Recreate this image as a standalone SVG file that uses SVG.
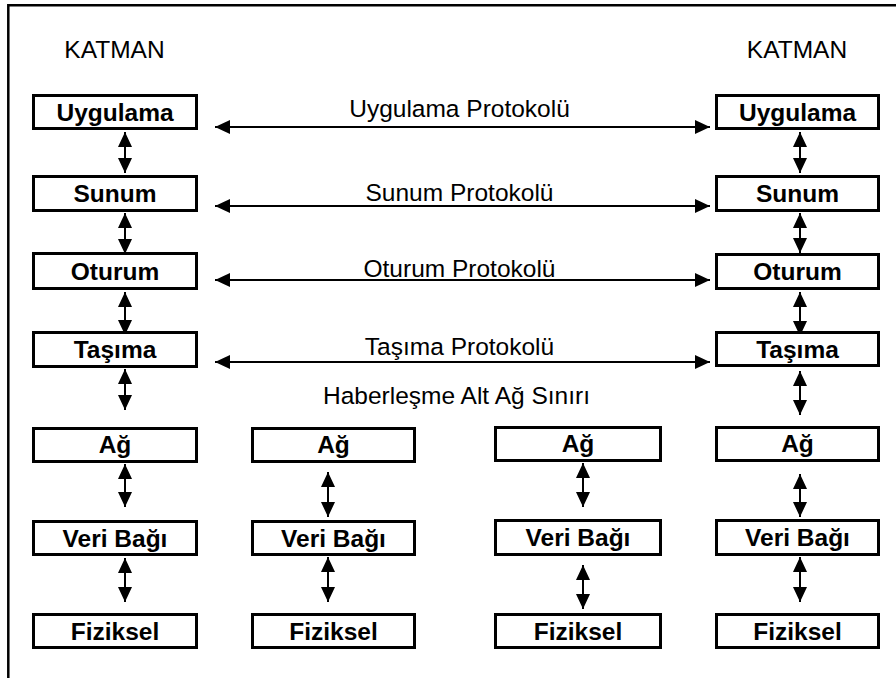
<svg xmlns="http://www.w3.org/2000/svg" width="896" height="678" viewBox="0 0 896 678">
<style>
.box{fill:#fff;stroke:#000;stroke-width:3}
.bl{font-family:"Liberation Sans",Arial,sans-serif;font-size:24.5px;font-weight:bold;text-anchor:middle;fill:#000}
.lb{font-family:"Liberation Sans",Arial,sans-serif;font-size:24.5px;text-anchor:middle;fill:#000}
.c{stroke:#000;stroke-width:2;fill:none;marker-start:url(#ah);marker-end:url(#ah)}
</style>
<defs>
<marker id="ah" viewBox="0 0 15 14" markerWidth="15" markerHeight="14" refX="15" refY="7" markerUnits="userSpaceOnUse" orient="auto-start-reverse">
<path d="M0,0 L15,7 L0,14 Z" fill="#000"/>
</marker>
</defs>
<rect width="896" height="678" fill="#fff"/>
<path d="M8.3,678 V5.3 H896" fill="none" stroke="#000" stroke-width="2.5"/>
<g id="labels">
<text class="lb" x="114.5" y="58">KATMAN</text>
<text class="lb" x="797" y="58">KATMAN</text>
<text class="lb" x="459.5" y="117">Uygulama Protokolü</text>
<text class="lb" x="459.5" y="201">Sunum Protokolü</text>
<text class="lb" x="459.5" y="277">Oturum Protokolü</text>
<text class="lb" x="459.5" y="355">Taşıma Protokolü</text>
<text class="lb" x="456.5" y="404">Haberleşme Alt Ağ Sınırı</text>
</g>
<g id="connectors">
<line class="c" x1="215" y1="127" x2="710" y2="127"/>
<line class="c" x1="215" y1="206" x2="710" y2="206"/>
<line class="c" x1="215" y1="280" x2="710" y2="280"/>
<line class="c" x1="215" y1="362" x2="710" y2="362"/>
<line class="c" x1="125" y1="132" x2="125" y2="173"/>
<line class="c" x1="125" y1="213" x2="125" y2="254"/>
<line class="c" x1="125" y1="292" x2="125" y2="335"/>
<line class="c" x1="125" y1="369" x2="125" y2="410"/>
<line class="c" x1="125" y1="464" x2="125" y2="507"/>
<line class="c" x1="125" y1="558" x2="125" y2="602"/>
<line class="c" x1="328" y1="472" x2="328" y2="517"/>
<line class="c" x1="328" y1="557" x2="328" y2="602"/>
<line class="c" x1="583" y1="463" x2="583" y2="507"/>
<line class="c" x1="583" y1="565" x2="583" y2="609"/>
<line class="c" x1="800" y1="132" x2="800" y2="173"/>
<line class="c" x1="800" y1="213" x2="800" y2="253"/>
<line class="c" x1="800" y1="292" x2="800" y2="336"/>
<line class="c" x1="800" y1="371" x2="800" y2="415"/>
<line class="c" x1="800" y1="474" x2="800" y2="517"/>
<line class="c" x1="800" y1="557" x2="800" y2="602"/>
</g>
<g id="l-uygulama"><rect class="box" x="33.5" y="95.5" width="163" height="33"/><text class="bl" x="115" y="121">Uygulama</text></g>
<g id="l-sunum"><rect class="box" x="33.5" y="176.5" width="163" height="34"/><text class="bl" x="115" y="202">Sunum</text></g>
<g id="l-oturum"><rect class="box" x="33.5" y="253.5" width="163" height="35"/><text class="bl" x="115" y="280">Oturum</text></g>
<g id="l-tasima"><rect class="box" x="33.5" y="332.5" width="163" height="34"/><text class="bl" x="115" y="358">Taşıma</text></g>
<g id="l-ag"><rect class="box" x="33.5" y="428.5" width="163" height="33"/><text class="bl" x="115" y="453">Ağ</text></g>
<g id="l-veri"><rect class="box" x="33.5" y="521.5" width="163" height="33"/><text class="bl" x="115" y="547">Veri Bağı</text></g>
<g id="l-fiziksel"><rect class="box" x="33.5" y="614.5" width="163" height="33"/><text class="bl" x="115" y="640">Fiziksel</text></g>
<g id="a-ag"><rect class="box" x="252.5" y="428.5" width="162" height="33"/><text class="bl" x="333.5" y="453">Ağ</text></g>
<g id="a-veri"><rect class="box" x="252.5" y="521.5" width="162" height="33"/><text class="bl" x="333.5" y="547">Veri Bağı</text></g>
<g id="a-fiziksel"><rect class="box" x="252.5" y="614.5" width="162" height="33"/><text class="bl" x="333.5" y="640">Fiziksel</text></g>
<g id="b-ag"><rect class="box" x="495.5" y="427.5" width="165" height="33"/><text class="bl" x="578" y="452">Ağ</text></g>
<g id="b-veri"><rect class="box" x="495.5" y="520.5" width="165" height="34"/><text class="bl" x="578" y="546">Veri Bağı</text></g>
<g id="b-fiziksel"><rect class="box" x="495.5" y="614.5" width="165" height="33"/><text class="bl" x="578" y="640">Fiziksel</text></g>
<g id="r-uygulama"><rect class="box" x="716.5" y="95.5" width="162" height="33"/><text class="bl" x="797.5" y="121">Uygulama</text></g>
<g id="r-sunum"><rect class="box" x="716.5" y="176.5" width="162" height="34"/><text class="bl" x="797.5" y="202">Sunum</text></g>
<g id="r-oturum"><rect class="box" x="716.5" y="254.5" width="162" height="34"/><text class="bl" x="797.5" y="280">Oturum</text></g>
<g id="r-tasima"><rect class="box" x="716.5" y="332.5" width="162" height="33"/><text class="bl" x="797.5" y="358">Taşıma</text></g>
<g id="r-ag"><rect class="box" x="716.5" y="427.5" width="162" height="33"/><text class="bl" x="797.5" y="452">Ağ</text></g>
<g id="r-veri"><rect class="box" x="716.5" y="520.5" width="162" height="34"/><text class="bl" x="797.5" y="546">Veri Bağı</text></g>
<g id="r-fiziksel"><rect class="box" x="716.5" y="614.5" width="162" height="33"/><text class="bl" x="797.5" y="640">Fiziksel</text></g>
</svg>
